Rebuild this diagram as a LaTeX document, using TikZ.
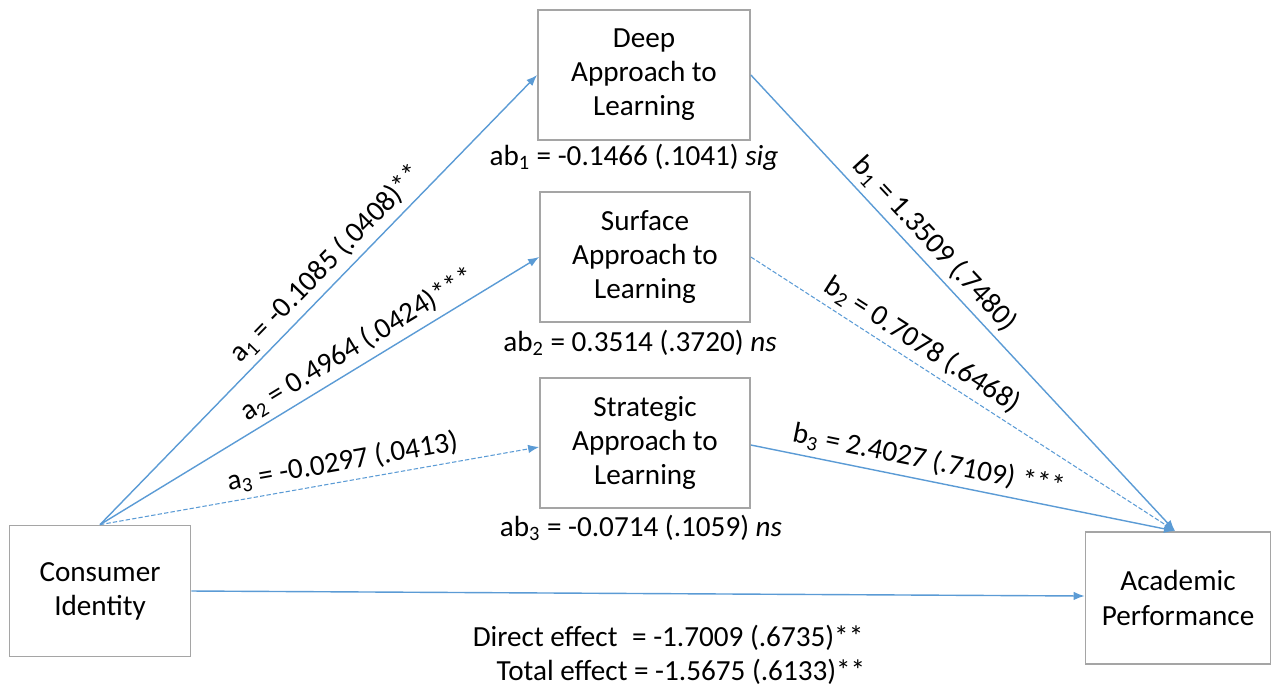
\documentclass[tikz,border=0pt]{standalone}
\usepackage{fontspec}
\setmainfont{Carlito}
\usetikzlibrary{arrows.meta}
\definecolor{linkblue}{RGB}{91,155,213}
\definecolor{boxgray}{RGB}{165,165,165}

\begin{document}
\begin{tikzpicture}[x=0.02cm, y=-0.02cm, >={Latex[length=2.2mm,width=1.7mm]},
  font=\fontsize{16.6}{19.4}\selectfont,
  block/.style={draw=boxgray, line width=1pt, rectangle, align=center, inner sep=0pt},
  link/.style={->, draw=linkblue, line width=0.8pt},
  nslink/.style={link, dash pattern=on 2.5pt off 1.2pt, line width=0.6pt}]
  \useasboundingbox (0,0) rectangle (1273,691);

  % Define blocks
  \node [block, minimum width=212*0.02cm, minimum height=130*0.02cm] (deep) at (644,75) {Deep\\Approach to\\Learning};
  \node [block, minimum width=210*0.02cm, minimum height=130*0.02cm] (surface) at (645,257) {Surface\\Approach to\\Learning};
  \node [block, minimum width=210*0.02cm, minimum height=130*0.02cm] (strategic) at (645,443) {Strategic\\Approach to\\Learning};
  \node [block, minimum width=181*0.02cm, minimum height=131*0.02cm] (consumer) at (100,591) {Consumer\\Identity};
  \node [block, minimum width=185*0.02cm, minimum height=132*0.02cm] (academic) at (1178,598) {Academic\\Performance};

  % Indirect effects under the mediators
  \node (ab1) at (634,157) {ab\textsubscript{1} = -0.1466 (.1041) \textit{sig}};
  \node (ab2) at (640,343) {ab\textsubscript{2} = 0.3514 (.3720) \textit{ns}};
  \node (ab3) at (641,528) {ab\textsubscript{3} = -0.0714 (.1059) \textit{ns}};

  % Connect blocks
  \coordinate (ci) at (consumer.north);
  \coordinate (ap) at (1175,531);
  \draw [link] (ci) -- node[pos=0.55, above, sloped] {a\textsubscript{1} = -0.1085 (.0408)**} (deep.west);
  \draw [link] (ci) -- node[pos=0.61, above, sloped] {a\textsubscript{2} = 0.4964 (.0424)***} (surface.west);
  \draw [nslink] (ci) -- node[pos=0.56, above, sloped] {a\textsubscript{3} = -0.0297 (.0413)} ([yshift=-4*0.02cm]strategic.west);
  \draw [link] (deep.east) -- node[pos=0.4, above, sloped] {b\textsubscript{1} = 1.3509 (.7480)} (ap);
  \draw [nslink] (surface.east) -- node[pos=0.38, above, sloped] {b\textsubscript{2} = 0.7078 (.6468)} (ap);
  \draw [link] ([yshift=-2*0.02cm]strategic.east) -- node[pos=0.41, above, sloped] {b\textsubscript{3} = 2.4027 (.7109) ***} (ap);
  \draw [link] (consumer.east) -- ([yshift=2*0.02cm]academic.west);

  % Direct and total effects
  \node (direct) at (668,638) {Direct effect\enspace = -1.7009 (.6735)**};
  \node (total) at (681,672) {Total effect = -1.5675 (.6133)**};
\end{tikzpicture}
\end{document}
